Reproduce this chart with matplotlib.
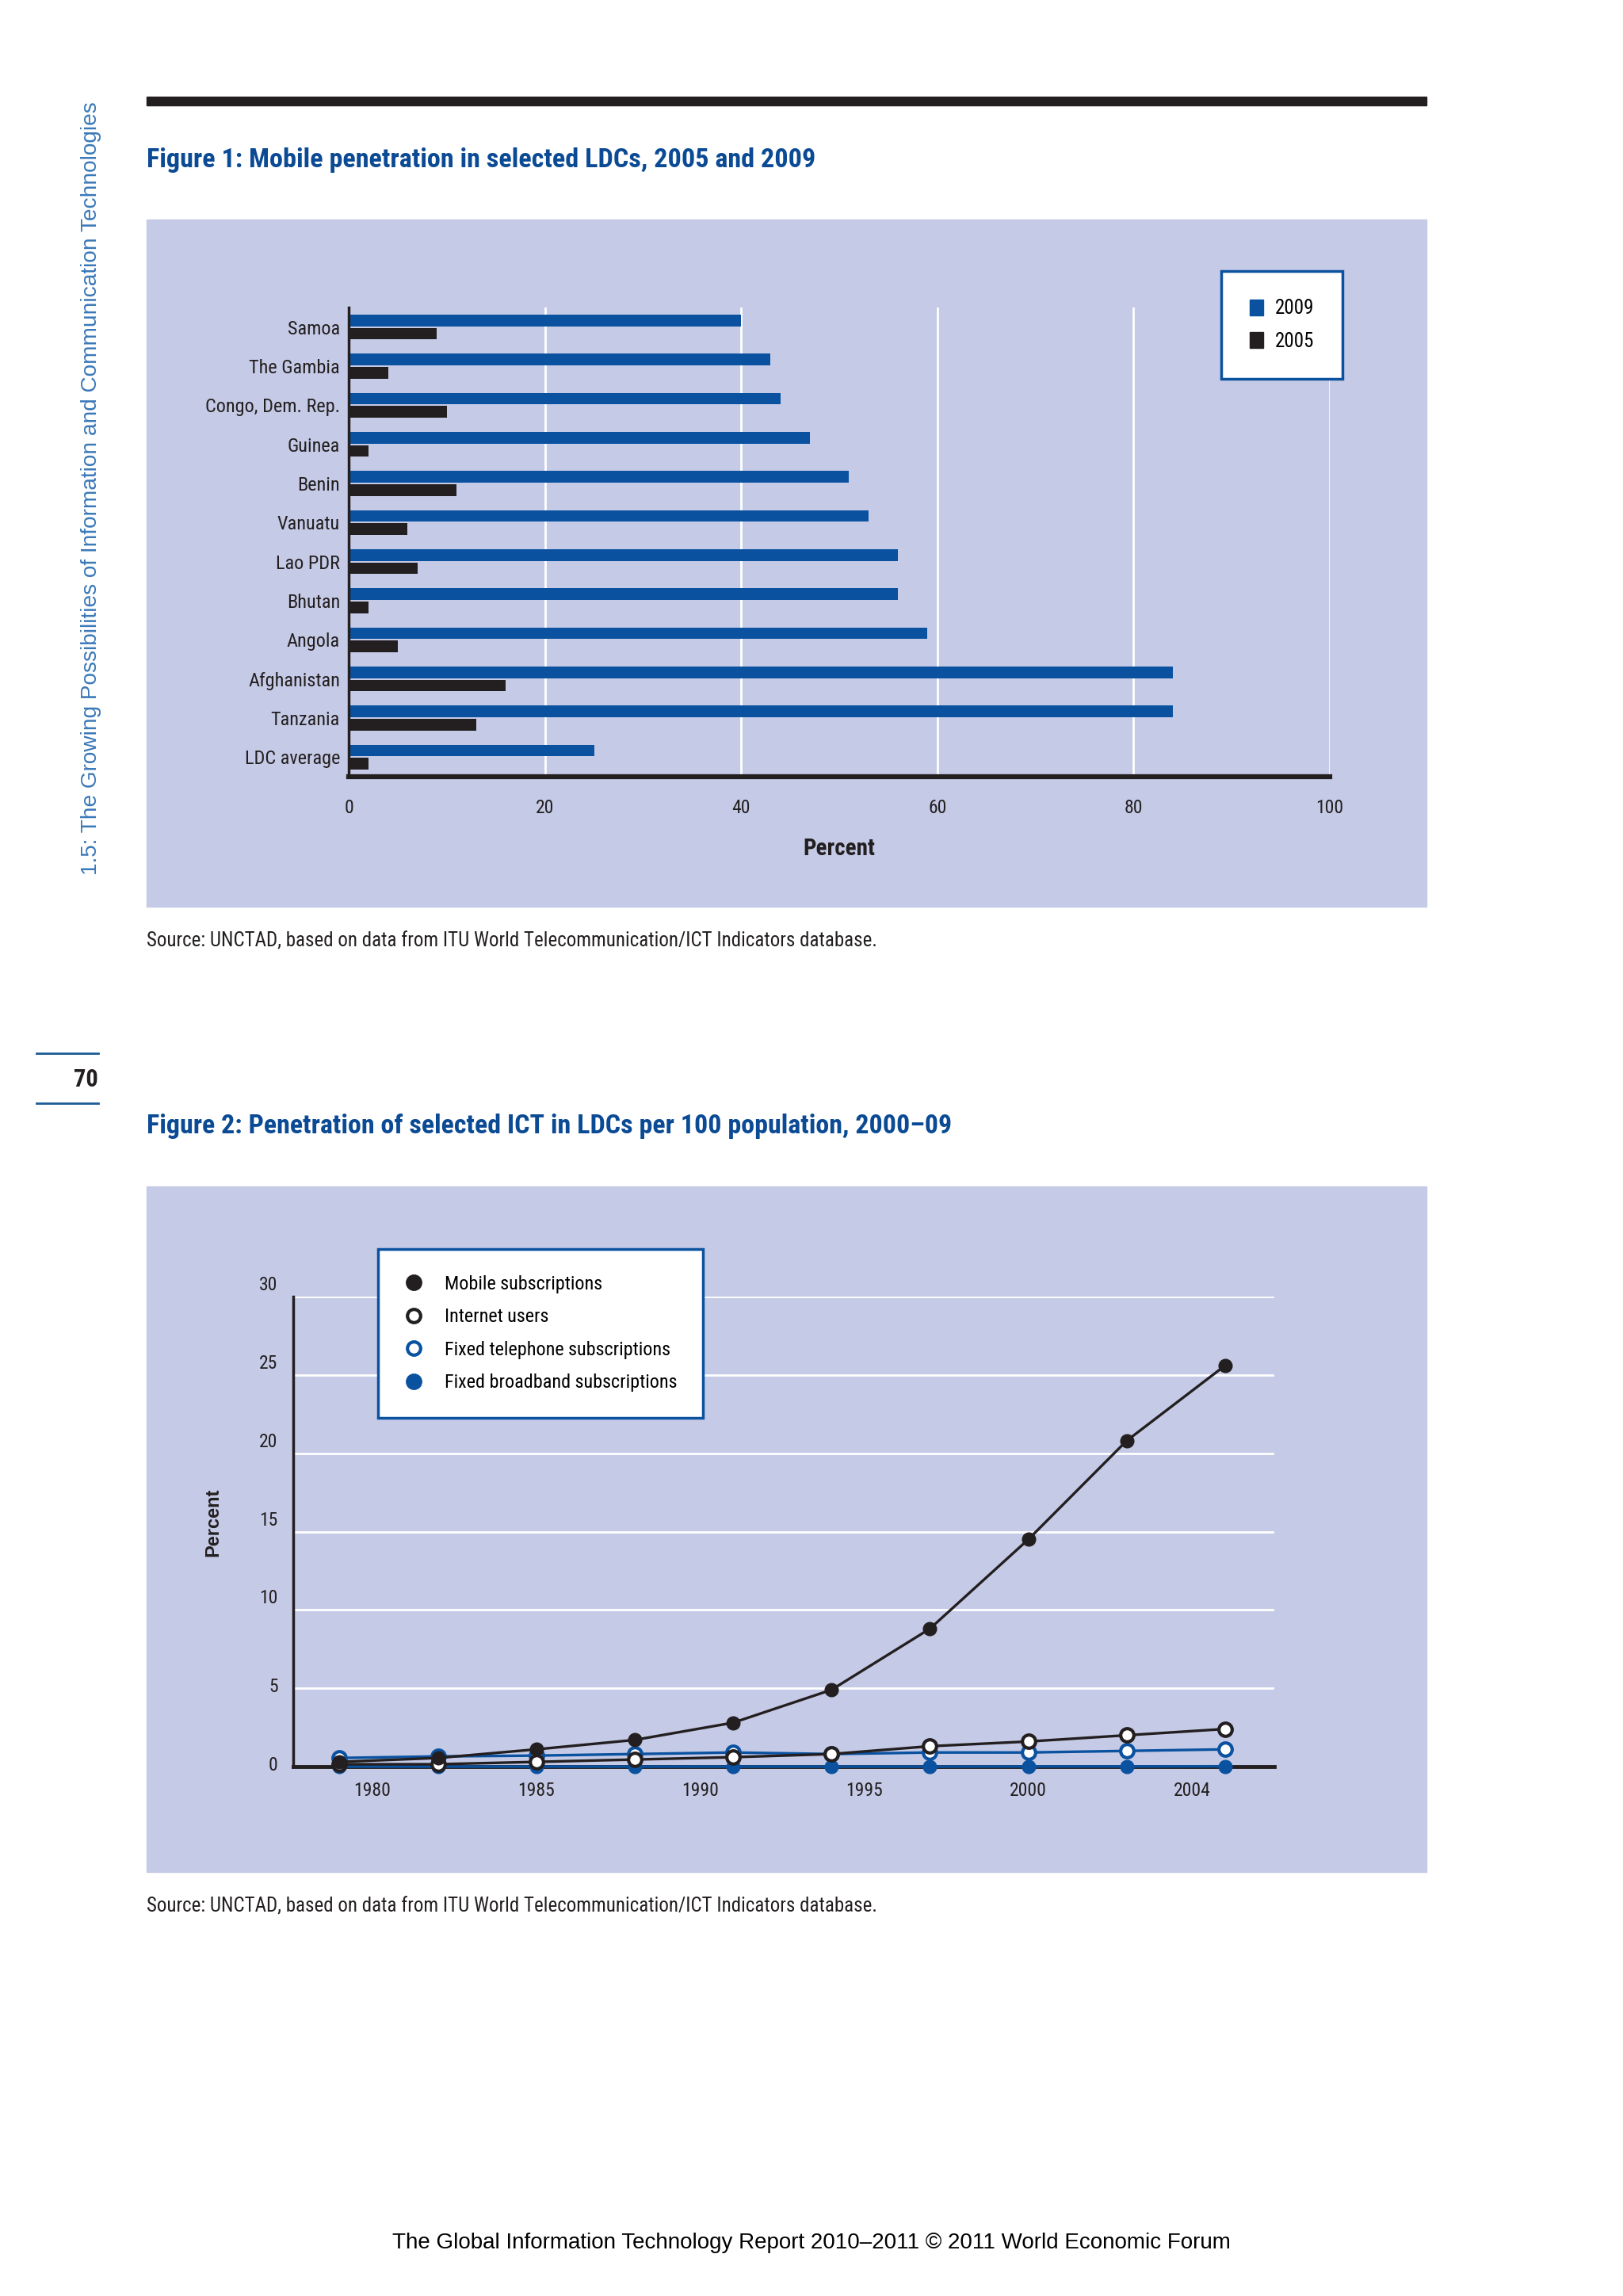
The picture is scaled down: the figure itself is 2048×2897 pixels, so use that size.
import numpy as np
import matplotlib
matplotlib.use("Agg")
import matplotlib.pyplot as plt
import matplotlib.font_manager as fm
import matplotlib.transforms as mtransforms
from matplotlib.lines import Line2D
from matplotlib.patches import Patch

# Figure 1 data
countries = ['Samoa', 'The Gambia', 'Congo, Dem. Rep.', 'Guinea', 'Benin', 'Vanuatu',
             'Lao PDR', 'Bhutan', 'Angola', 'Afghanistan', 'Tanzania', 'LDC average']
pen_2009 = [40, 43, 44, 47, 51, 53, 56, 56, 59, 84, 84, 25]
pen_2005 = [9, 4, 10, 2, 11, 6, 7, 2, 5, 16, 13, 2]
bar_ticks = [0, 20, 40, 60, 80, 100]

# Figure 2 data
years = list(range(2000, 2010))
mobile = [0.3, 0.55, 1.1, 1.7, 2.8, 4.9, 8.8, 14.5, 20.8, 25.6]
internet = [0.15, 0.15, 0.3, 0.45, 0.6, 0.8, 1.3, 1.6, 2.0, 2.4]
fixed_tel = [0.55, 0.65, 0.7, 0.8, 0.9, 0.8, 0.9, 0.9, 1.0, 1.1]
broadband = [0.0, 0.0, 0.0, 0.0, 0.0, 0.0, 0.0, 0.01, 0.01, 0.02]
xtick_labels = ['1980', '1985', '1990', '1995', '2000', '2004']
y_ticks = [0, 5, 10, 15, 20, 25, 30]

BLUE = '#0a52a0'
BLACK = '#231f20'
PANEL = '#c5cae6'
TITLE_BLUE = '#0b4a94'
SIDE_BLUE = '#3a78b8'


def pick_narrow():
    # find some condensed face, else fall back to Arial-like metrics
    fams = {}
    for f in fm.fontManager.ttflist:
        fams.setdefault(f.name, set()).add(str(f.stretch))
    for name in ['Liberation Sans Narrow', 'Arial Narrow', 'Roboto Condensed', 'DejaVu Sans Condensed',
                 'Open Sans Condensed', 'Noto Sans Condensed', 'Archivo Narrow', 'PT Sans Narrow']:
        if name in fams:
            return name, 'normal'
    for name in ['DejaVu Sans', 'Roboto', 'Noto Sans', 'Open Sans', 'Liberation Sans']:
        if name in fams and fams[name] & {'condensed', 'semi-condensed', 'extra-condensed'}:
            return name, 'condensed'
    return 'Liberation Sans', 'normal'


NARROW_NAME, NARROW_STRETCH = pick_narrow()
NARROW = [NARROW_NAME, 'DejaVu Sans']
plt.rcParams['font.stretch'] = NARROW_STRETCH

W, H = 2048, 2897
fig = plt.figure(figsize=(W / 100, H / 100), dpi=100)
fig.patch.set_facecolor('white')


def box(x0, y0, x1, y1):
    # pixel box (top-left origin) -> figure fraction rect
    return [x0 / W, 1 - y1 / H, (x1 - x0) / W, (y1 - y0) / H]


def fx(x):
    return x / W


def fy(y):
    return 1 - y / H


def ntext(x, y, s, **kw):
    return fig.text(fx(x), fy(y), s, family=NARROW, stretch=NARROW_STRETCH, **kw)


# page decorations
fig.add_artist(plt.Rectangle((fx(185), fy(133)), fx(1800) - fx(185), fy(122) - fy(133),
                             color=BLACK, transform=fig.transFigure))
fig.text(fx(115), fy(616), '1.5: The Growing Possibilities of Information and Communication Technologies',
         rotation=90, ha='center', va='center', color=SIDE_BLUE, fontsize=20.2,
         family=['Liberation Sans', 'DejaVu Sans'], stretch='normal')
for yy in (1329, 1392):
    fig.add_artist(Line2D([fx(46), fx(124)], [fy(yy), fy(yy)], color='#1d5a96', lw=2,
                          transform=fig.transFigure))
ntext(124, 1362, '70', ha='right', va='center', fontsize=22, fontweight='bold', color=BLACK)

ntext(185, 202, 'Figure 1: Mobile penetration in selected LDCs, 2005 and 2009',
      ha='left', va='center', fontsize=24.6, fontweight='bold', color=TITLE_BLUE)
ntext(185, 1421, 'Figure 2: Penetration of selected ICT in LDCs per 100 population, 2000\u201309',
      ha='left', va='center', fontsize=24.5, fontweight='bold', color=TITLE_BLUE)
src = 'Source: UNCTAD, based on data from ITU World Telecommunication/ICT Indicators database.'
ntext(185, 1187, src, ha='left', va='center', fontsize=18, color=BLACK)
ntext(185, 2405, src, ha='left', va='center', fontsize=18, color=BLACK)
fig.text(fx(1024), fy(2830),
         'The Global Information Technology Report 2010\u20132011 \u00a9 2011 World Economic Forum',
         ha='center', va='center', fontsize=20, color='black',
         family=['Liberation Sans', 'DejaVu Sans'], stretch='normal')

# panel backgrounds
for (y0, y1) in ((277, 1144), (1497, 2362)):
    fig.add_artist(plt.Rectangle((fx(185), fy(y1)), fx(1800) - fx(185), fy(y0) - fy(y1),
                                 color=PANEL, transform=fig.transFigure, zorder=0))

# ---------------- Figure 1: horizontal bars
ax1 = fig.add_axes(box(440, 388, 1678, 980))
ax1.set_facecolor('none')
pos = np.arange(len(countries))
ax1.barh(pos - 0.17, pen_2009, height=0.3, color=BLUE, label='2009', zorder=3)
ax1.barh(pos + 0.17, pen_2005, height=0.3, color=BLACK, label='2005', zorder=3)
ax1.set_ylim(len(countries) - 0.5, -0.5)
ax1.set_xlim(0, 100)
ax1.set_xticks(bar_ticks)
ax1.set_yticks(pos)
ax1.set_yticklabels(countries, fontsize=17.5, color=BLACK)
ax1.tick_params(axis='x', labelsize=17, length=0, pad=20, labelcolor=BLACK)
for lab in ax1.get_xticklabels() + ax1.get_yticklabels():
    lab.set_family(NARROW)
    lab.set_stretch(NARROW_STRETCH)
ax1.tick_params(axis='y', length=0, pad=8)
ax1.grid(axis='x', color='white', lw=2, zorder=1)
for s in ('top', 'right'):
    ax1.spines[s].set_visible(False)
ax1.spines['left'].set_linewidth(2.5)
ax1.spines['left'].set_color(BLACK)
ax1.spines['bottom'].set_linewidth(4.5)
ax1.spines['bottom'].set_color(BLACK)
ax1.spines['left'].set_zorder(4)
ax1.spines['bottom'].set_zorder(4)
ax1.set_xlabel('Percent', fontsize=21, fontweight='bold', family=NARROW, stretch=NARROW_STRETCH,
               color=BLACK, labelpad=19)

leg1 = ax1.legend(handles=[Patch(color=BLUE, label='2009'), Patch(color=BLACK, label='2005')],
                  loc='upper left', bbox_to_anchor=(fx(1541), fy(342)), bbox_transform=fig.transFigure,
                  frameon=True, fancybox=False, handlelength=0.7, handleheight=0.9,
                  borderpad=1.42, labelspacing=0.68, handletextpad=0.61, borderaxespad=0,
                  prop={'family': NARROW, 'stretch': NARROW_STRETCH, 'size': 18})
leg1.get_frame().set_edgecolor(BLUE)
leg1.get_frame().set_linewidth(2.5)
leg1.get_frame().set_alpha(1)
leg1.set_zorder(10)

# ---------------- Figure 2: lines
ax2 = fig.add_axes(box(370, 1636, 1608, 2229))
ax2.set_facecolor('none')
ms = 12
ax2.plot(years, broadband, color=BLUE, lw=2.4, marker='o', ms=ms, mfc=BLUE, mec=BLUE, zorder=3,
         label='Fixed broadband subscriptions', clip_on=False)
ax2.plot(years, fixed_tel, color=BLUE, lw=2.4, marker='o', ms=ms, mfc='white', mec=BLUE, mew=3,
         zorder=4, label='Fixed telephone subscriptions', clip_on=False)
ax2.plot(years, internet, color=BLACK, lw=2.4, marker='o', ms=ms, mfc='white', mec=BLACK, mew=3,
         zorder=5, label='Internet users', clip_on=False)
ax2.plot(years, mobile, color=BLACK, lw=2.4, marker='o', ms=ms, mfc=BLACK, mec=BLACK, zorder=6,
         label='Mobile subscriptions', clip_on=False)
ax2.set_xlim(years[0] - 0.47, years[-1] + 0.5)
ax2.set_ylim(0, 30)
ax2.set_yticks(y_ticks)
ax2.set_xticks(np.linspace(years[0] + 1 / 3, years[0] + 26 / 3, len(xtick_labels)))
ax2.set_xticklabels(xtick_labels)
ax2.tick_params(axis='both', length=0, labelsize=17, labelcolor=BLACK)
ax2.tick_params(axis='x', pad=14)
ax2.tick_params(axis='y', pad=14)
for lab in ax2.get_xticklabels() + ax2.get_yticklabels():
    lab.set_family(NARROW)
    lab.set_stretch(NARROW_STRETCH)
# the printed y labels sit a little above their gridlines
for val, lab in zip(y_ticks, ax2.get_yticklabels()):
    up = 0.17 if val >= 10 else 0.04
    lab.set_transform(lab.get_transform() + mtransforms.ScaledTranslation(0, up, fig.dpi_scale_trans))
ax2.grid(axis='y', color='white', lw=2, zorder=1)
for s in ('top', 'right'):
    ax2.spines[s].set_visible(False)
ax2.spines['left'].set_linewidth(2.5)
ax2.spines['left'].set_color(BLACK)
ax2.spines['bottom'].set_linewidth(3.5)
ax2.spines['bottom'].set_color(BLACK)
ax2.set_ylabel('Percent', fontsize=17, fontweight='bold', color=BLACK,
               family=['Liberation Sans', 'DejaVu Sans'], stretch='normal')
ax2.yaxis.set_label_coords((280 - 370) / (1608 - 370), 0.52)

h, l = ax2.get_legend_handles_labels()
order = [3, 2, 1, 0]
leg2_handles = [Line2D([], [], ls='none', marker='o', ms=ms, mfc=hh.get_mfc(), mec=hh.get_mec(),
                       mew=3) for hh in [h[i] for i in order]]
leg2 = ax2.legend(leg2_handles, [l[i] for i in order], loc='upper left',
                  bbox_to_anchor=(fx(477), fy(1576)), bbox_transform=fig.transFigure,
                  frameon=True, fancybox=False, handlelength=1.0, borderpad=1.36,
                  labelspacing=0.76, handletextpad=1.1, borderaxespad=0,
                  prop={'family': NARROW, 'stretch': NARROW_STRETCH, 'size': 17.4})
leg2.get_frame().set_edgecolor(BLUE)
leg2.get_frame().set_linewidth(2.5)
leg2.get_frame().set_alpha(1)
leg2.set_zorder(10)

fig.savefig('out.png', dpi=100, facecolor='white')
